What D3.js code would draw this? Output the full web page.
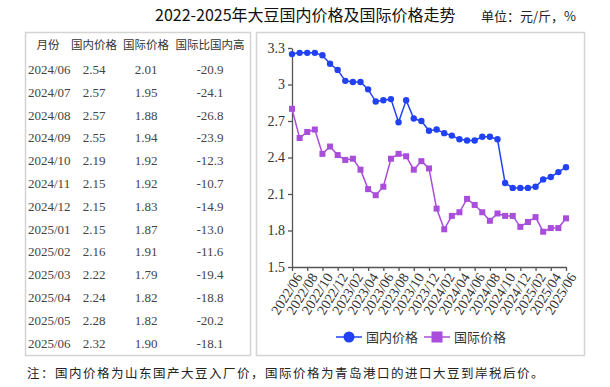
<!DOCTYPE html>
<html>
<head>
<meta charset="utf-8">
<script src="https://cdn.jsdelivr.net/npm/d3@7"></script>
<style>
  body { margin: 0; background: #fff; }
  svg { display: block; }
</style>
</head>
<body>
<div id="chart"></div>
<script>
// Data
const months = [
  "2022/06", "2022/07", "2022/08", "2022/09", "2022/10", "2022/11", "2022/12",
  "2023/01", "2023/02", "2023/03", "2023/04", "2023/05", "2023/06", "2023/07",
  "2023/08", "2023/09", "2023/10", "2023/11", "2023/12",
  "2024/01", "2024/02", "2024/03", "2024/04", "2024/05", "2024/06", "2024/07",
  "2024/08", "2024/09", "2024/10", "2024/11", "2024/12",
  "2025/01", "2025/02", "2025/03", "2025/04", "2025/05", "2025/06"
];
const domestic = [
  3.25, 3.26, 3.26, 3.26, 3.24, 3.17, 3.12,
  3.03, 3.02, 3.02, 2.96, 2.86, 2.87, 2.88,
  2.69, 2.87, 2.72, 2.70, 2.62,
  2.63, 2.60, 2.58, 2.55, 2.54, 2.54, 2.57,
  2.57, 2.55, 2.19, 2.15, 2.15,
  2.15, 2.16, 2.22, 2.24, 2.28, 2.32
];
const international = [
  2.80, 2.56, 2.61, 2.63, 2.43, 2.49, 2.42,
  2.38, 2.39, 2.30, 2.14, 2.09, 2.16, 2.39,
  2.43, 2.41, 2.30, 2.37, 2.31,
  1.98, 1.81, 1.92, 1.95, 2.06, 2.01, 1.95,
  1.88, 1.94, 1.92, 1.92, 1.83,
  1.87, 1.91, 1.79, 1.82, 1.82, 1.90
];
const yTicks = [1.5, 1.8, 2.1, 2.4, 2.7, 3.0, 3.3];
const xTicks = months.filter((m, i) => i % 2 === 0);

// table (last 13 months)
const tableHeader = ["月份", "国内价格", "国际价格", "国际比国内高"];
const tableMonths = months.slice(24);
const tableGap = [-20.9, -24.1, -26.8, -23.9, -12.3, -10.7, -14.9, -13.0, -11.6, -19.4, -18.8, -20.2, -18.1];

const seriesNames = ["国内价格", "国际价格"];
const colours = ["#2141f2", "#a94ddb"];

const title = "2022-2025年大豆国内价格及国际价格走势";
const unitText = "单位：元/斤，%";
const note = "注：国内价格为山东国产大豆入厂价，国际价格为青岛港口的进口大豆到岸税后价。";

const width = 610, height = 387;
const serif = "'Liberation Serif', 'Times New Roman', serif";
const cjk = "'Noto Sans CJK SC', sans-serif";

const svg = d3.select("#chart").append("svg")
    .attr("width", width)
    .attr("height", height);

// Title and unit
svg.append("text")
    .attr("x", 155).attr("y", 21)
    .style("font-family", cjk)
    .style("font-size", "16px")
    .attr("fill", "#111")
    .text(title);

svg.append("text")
    .attr("x", 481).attr("y", 21)
    .style("font-family", cjk)
    .style("font-size", "13px")
    .attr("fill", "#222")
    .text(unitText);

// Table box
svg.append("rect")
    .attr("x", 25.5).attr("y", 32.5)
    .attr("width", 225).attr("height", 323)
    .attr("fill", "none")
    .attr("stroke", "#d4d4d4")
    .attr("stroke-width", 1.5);

const colX = [48, 94, 146, 210];
const rowY = d3.scaleLinear().domain([0, 1]).range([74, 96.8]);

svg.append("g").selectAll("text")
    .data(tableHeader)
    .join("text")
    .attr("x", (d, i) => colX[i])
    .attr("y", 49)
    .attr("text-anchor", "middle")
    .style("font-family", cjk)
    .style("font-size", "11.5px")
    .attr("fill", "#333")
    .text(d => d);

const rows = tableMonths.map((m, i) => [
  m,
  domestic[24 + i].toFixed(2),
  international[24 + i].toFixed(2),
  tableGap[i].toFixed(1)
]);

const rowG = svg.append("g").selectAll("g")
    .data(rows)
    .join("g")
    .attr("transform", (d, i) => `translate(0,${rowY(i)})`);

rowG.selectAll("text")
    .data(d => d)
    .join("text")
    .attr("x", (d, i) => i === 0 ? 28 : colX[i])
    .attr("text-anchor", (d, i) => i === 0 ? "start" : "middle")
    .style("font-family", serif)
    .style("font-size", "13px")
    .attr("fill", "#444")
    .text(d => d);

// Chart box
svg.append("rect")
    .attr("x", 256.5).attr("y", 32.5)
    .attr("width", 328).attr("height", 323)
    .attr("fill", "none")
    .attr("stroke", "#d4d4d4")
    .attr("stroke-width", 1.5);

// Scales
const x = d3.scalePoint().domain(months).range([292, 566]);
const y = d3.scaleLinear().domain([1.5, 3.3]).range([267, 48]);

// Axes
const xAxis = svg.append("g")
    .attr("transform", `translate(0,${y(1.5)})`)
    .call(d3.axisBottom(x).tickValues(xTicks).tickSize(4).tickSizeOuter(0));

xAxis.selectAll("text")
    .attr("transform", "rotate(-58)")
    .attr("text-anchor", "end")
    .attr("dx", "-0.2em")
    .attr("dy", "0.5em")
    .style("font-family", serif)
    .style("font-size", "14px")
    .attr("fill", "#333");

const yAxis = svg.append("g")
    .attr("transform", `translate(${x(months[0])},0)`)
    .call(d3.axisLeft(y).tickValues(yTicks).tickFormat(d3.format("~g")).tickSize(4).tickSizeOuter(0));

yAxis.selectAll("text")
    .style("font-family", serif)
    .style("font-size", "14px")
    .attr("fill", "#333");

svg.selectAll(".domain, .tick line")
    .attr("stroke", "#555")
    .attr("stroke-width", 1.3);

// Lines
const line = d3.line()
    .x((d, i) => x(months[i]))
    .y(d => y(d));

[domestic, international].forEach((values, s) => {
  svg.append("path")
      .datum(values)
      .attr("d", line)
      .attr("fill", "none")
      .attr("stroke", colours[s])
      .attr("stroke-width", 1.5);
});

// Markers
svg.append("g").selectAll("circle")
    .data(domestic)
    .join("circle")
    .attr("cx", (d, i) => x(months[i]))
    .attr("cy", d => y(d))
    .attr("r", 3.2)
    .attr("fill", colours[0]);

svg.append("g").selectAll("rect")
    .data(international)
    .join("rect")
    .attr("x", (d, i) => x(months[i]) - 3)
    .attr("y", d => y(d) - 3)
    .attr("width", 6)
    .attr("height", 6)
    .attr("fill", colours[1]);

// Legend
const legend = svg.append("g").attr("transform", "translate(336,337)");
seriesNames.forEach((name, i) => {
  const g = legend.append("g").attr("transform", `translate(${i * 88},0)`);
  g.append("line")
      .attr("x1", 0).attr("x2", 26)
      .attr("stroke", colours[i])
      .attr("stroke-width", 1.5);
  if (i === 0) {
    g.append("circle").attr("cx", 13).attr("r", 5.5).attr("fill", colours[i]);
  } else {
    g.append("rect").attr("x", 7.5).attr("y", -5.5).attr("width", 11).attr("height", 11).attr("fill", colours[i]);
  }
  g.append("text")
      .attr("x", 30).attr("y", 0)
      .attr("dy", "0.36em")
      .style("font-family", cjk)
      .style("font-size", "13px")
      .attr("fill", "#333")
      .text(name);
});

// Note
svg.append("text")
    .attr("x", 27).attr("y", 378)
    .style("font-family", cjk)
    .style("font-size", "12.5px")
    .style("letter-spacing", "1.5px")
    .attr("fill", "#222")
    .text(note);
</script>
</body>
</html>
